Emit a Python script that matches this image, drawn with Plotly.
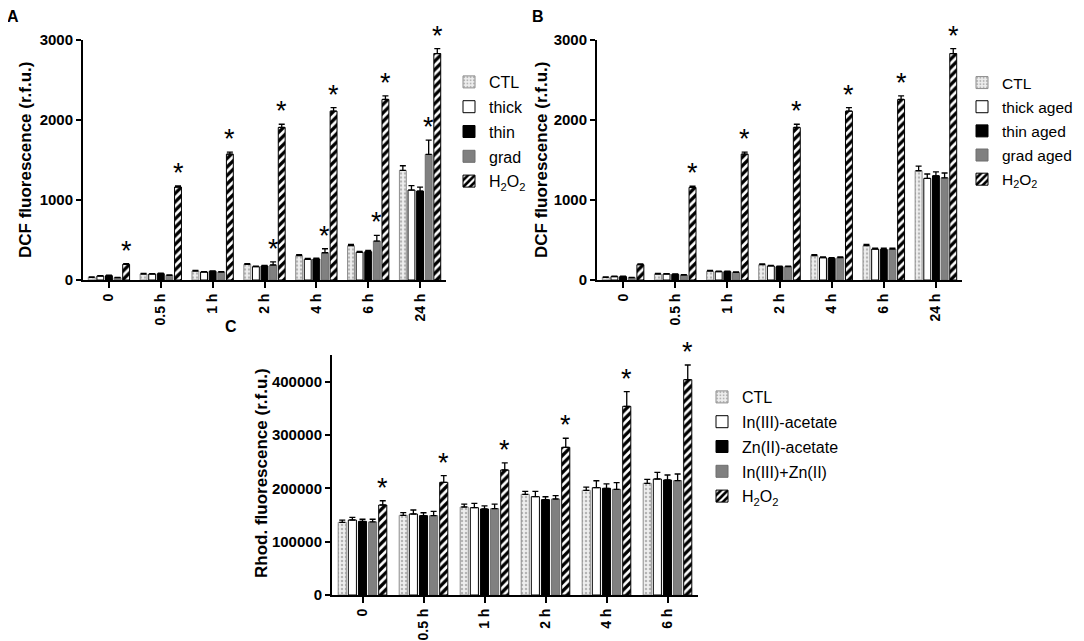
import plotly.graph_objects as go

# ---------------- data ----------------
time_ab = ["0", "0.5 h", "1 h", "2 h", "4 h", "6 h", "24 h"]
time_c = ["0", "0.5 h", "1 h", "2 h", "4 h", "6 h"]

names_a = ["CTL", "thick", "thin", "grad", "H<sub>2</sub>O<sub>2</sub>"]
names_b = ["CTL", "thick aged", "thin aged", "grad aged", "H<sub>2</sub>O<sub>2</sub>"]
names_c = ["CTL", "In(III)-acetate", "Zn(II)-acetate", "In(III)+Zn(II)", "H<sub>2</sub>O<sub>2</sub>"]

title_dcf = "DCF fluorescence (r.f.u.)"
title_rhod = "Rhod. fluorescence (r.f.u.)"

# Panel A values and SEM
a_ctl = [33, 75, 112, 195, 303, 428, 1367]
a_thick = [50, 75, 100, 166, 258, 345, 1122]
a_thin = [54, 79, 108, 175, 262, 353, 1109]
a_grad = [29, 58, 100, 187, 340, 486, 1566]
a_h2o2 = [195, 1160, 1570, 1903, 2106, 2252, 2825]
a_ctl_err = [5, 8, 8, 10, 12, 15, 58]
a_thick_err = [5, 5, 5, 8, 10, 12, 55]
a_thin_err = [5, 5, 5, 8, 10, 15, 50]
a_grad_err = [3, 5, 5, 40, 50, 70, 180]
a_h2o2_err = [10, 15, 25, 40, 45, 45, 60]
a_grad_sig = [False, False, False, True, True, True, True]
a_h2o2_sig = [True, True, True, True, True, True, True]

# Panel B values and SEM
b_ctl = [33, 75, 112, 191, 303, 428, 1363]
b_thick = [42, 75, 104, 175, 278, 386, 1267]
b_thin = [42, 71, 104, 166, 270, 382, 1300]
b_grad = [29, 62, 96, 166, 278, 386, 1275]
b_h2o2 = [191, 1155, 1570, 1903, 2106, 2252, 2825]
b_ctl_err = [5, 8, 8, 10, 12, 15, 58]
b_thick_err = [5, 5, 5, 8, 10, 12, 55]
b_thin_err = [5, 5, 5, 8, 10, 15, 50]
b_grad_err = [3, 5, 5, 8, 10, 12, 60]
b_h2o2_err = [10, 15, 25, 40, 45, 45, 60]
b_h2o2_sig = [False, True, True, True, True, True, True]

# Panel C values and SEM
c_ctl = [136250, 149400, 165000, 188750, 196250, 209400]
c_in = [140600, 151900, 163750, 184400, 201250, 217500]
c_zn = [138000, 148750, 161250, 178750, 200000, 215600]
c_inzn = [137000, 148750, 161900, 180000, 198100, 214400]
c_h2o2 = [168750, 211250, 234400, 276900, 353750, 403750]
c_ctl_err = [4000, 5000, 5500, 5500, 6000, 7500]
c_in_err = [5000, 7500, 8000, 10000, 13000, 12500]
c_zn_err = [4000, 5500, 6000, 5500, 8500, 9400]
c_inzn_err = [5000, 8000, 8500, 6500, 12500, 12500]
c_h2o2_err = [8000, 12500, 13500, 17000, 27500, 27500]
c_h2o2_sig = [True, True, True, True, True, True]

# ---------------- styles ----------------
FONT = "Arial, Liberation Sans, sans-serif"
BARGAP = 0.17
BARGROUPGAP = 0.2
styles = [
    dict(color="#eeeeee", line=dict(color="#8c8c8c", width=1),
         pattern=dict(shape=".", fgcolor="#7a7a7a", bgcolor="#eeeeee", size=4, solidity=0.3)),
    dict(color="white", line=dict(color="black", width=1)),
    dict(color="black", line=dict(color="black", width=1)),
    dict(color="#808080", line=dict(color="#6e6e6e", width=1)),
    dict(color="white", line=dict(color="black", width=1),
         pattern=dict(shape="/", fgcolor="black", bgcolor="white", size=6, solidity=0.55,
                      fgopacity=1)),
]

fig = go.Figure()


def add_panel(cats, series, errs, names, xa, ya, legend):
    for j, (vals, err, nm) in enumerate(zip(series, errs, names)):
        fig.add_trace(go.Bar(
            x=cats, y=vals, name=nm, marker=styles[j],
            error_y=dict(type="data", array=err, arrayminus=[0] * len(err), symmetric=False,
                         color="black", thickness=1.3, width=3),
            xaxis=xa, yaxis=ya, legend=legend, offsetgroup=str(j),
            legendgroup=legend + str(j),
        ))


def add_stars(series, errs, sigs, j, xref, yref):
    gw = 1 - BARGAP
    slot = gw / 5
    off = -gw / 2 + slot * (j + 0.5)
    for i, (v, e, s) in enumerate(zip(series, errs, sigs)):
        if s:
            fig.add_annotation(x=i + off, y=v + e, xref=xref, yref=yref, text="*",
                               showarrow=False, yanchor="bottom", yshift=-4,
                               font=dict(size=27, color="black", family=FONT))


add_panel(time_ab, [a_ctl, a_thick, a_thin, a_grad, a_h2o2],
          [a_ctl_err, a_thick_err, a_thin_err, a_grad_err, a_h2o2_err], names_a, "x", "y", "legend")
add_panel(time_ab, [b_ctl, b_thick, b_thin, b_grad, b_h2o2],
          [b_ctl_err, b_thick_err, b_thin_err, b_grad_err, b_h2o2_err], names_b, "x2", "y2", "legend2")
add_panel(time_c, [c_ctl, c_in, c_zn, c_inzn, c_h2o2],
          [c_ctl_err, c_in_err, c_zn_err, c_inzn_err, c_h2o2_err], names_c, "x3", "y3", "legend3")

add_stars(a_grad, a_grad_err, a_grad_sig, 3, "x", "y")
add_stars(a_h2o2, a_h2o2_err, a_h2o2_sig, 4, "x", "y")
add_stars(b_h2o2, b_h2o2_err, b_h2o2_sig, 4, "x2", "y2")
add_stars(c_h2o2, c_h2o2_err, c_h2o2_sig, 4, "x3", "y3")

# page body has an 8 px margin: figure is placed at screen (8, 8)
OFF = 8
W, H = 1076, 633


def sx(x):
    return (x - OFF) / W


def sy(y):
    return 1 - (y - OFF) / H


def px(a, b):
    return [sx(a), sx(b)]


def py(top, bottom):
    return [sy(bottom), sy(top)]


xax = dict(type="category", showline=True, linecolor="black", linewidth=2, ticks="outside",
           ticklen=6, tickwidth=1.5, tickcolor="black", tickangle=-90, showgrid=False, zeroline=False,
           automargin=False,
           tickfont=dict(family=FONT, size=14, color="black", weight="bold"))
yax = dict(showline=True, linecolor="black", linewidth=2, ticks="outside", ticklen=5, tickwidth=1.5,
           tickcolor="black", showgrid=False, zeroline=False, automargin=False,
           tickfont=dict(family=FONT, size=15, color="black", weight="bold"))

leg = dict(font=dict(family=FONT, size=16, color="black"), bgcolor="rgba(0,0,0,0)",
           yanchor="top", xanchor="left", traceorder="grouped", tracegroupgap=1, itemclick=False)

fig.update_layout(
    width=W, height=H, margin=dict(l=0, r=0, t=0, b=0, autoexpand=False),
    paper_bgcolor="white", plot_bgcolor="white",
    barmode="group", bargap=BARGAP, bargroupgap=BARGROUPGAP,
    font=dict(family=FONT, color="black"),
    xaxis=dict(xax, domain=px(83, 446), anchor="y"),
    yaxis=dict(yax, domain=py(39.5, 280), anchor="x", range=[0, 3000], dtick=1000),
    xaxis2=dict(xax, domain=px(597, 962), anchor="y2"),
    yaxis2=dict(yax, domain=py(39.5, 280), anchor="x2", range=[0, 3000], dtick=1000),
    xaxis3=dict(xax, domain=px(332, 698), anchor="y3"),
    yaxis3=dict(yax, domain=py(355, 595), anchor="x3", range=[0, 450000],
                tickvals=[0, 100000, 200000, 300000, 400000],
                ticktext=["0", "100000", "200000", "300000", "400000"]),
    legend=dict(leg, x=sx(449), y=sy(65)),
    legend2=dict(leg, x=sx(962), y=sy(66), font=dict(family=FONT, size=15.5, color="black")),
    legend3=dict(leg, x=sx(702), y=sy(380)),
)

# y-axis titles
for txt, xx, yy in [(title_dcf, 25, 160), (title_dcf, 541, 160), (title_rhod, 261, 473)]:
    fig.add_annotation(x=sx(xx), y=sy(yy), xref="paper", yref="paper", text=txt,
                       textangle=-90, showarrow=False, xanchor="center", yanchor="middle",
                       font=dict(family=FONT, size=17, color="black", weight="bold"))

# panel letters
for txt, xx, yy in [("A", 5, 6), ("B", 530, 6), ("C", 223, 316)]:
    fig.add_annotation(x=sx(xx), y=sy(yy), xref="paper", yref="paper", text=txt,
                       showarrow=False, xanchor="left", yanchor="top",
                       font=dict(family=FONT, size=16, color="black", weight="bold"))

fig.write_html("out.html")
